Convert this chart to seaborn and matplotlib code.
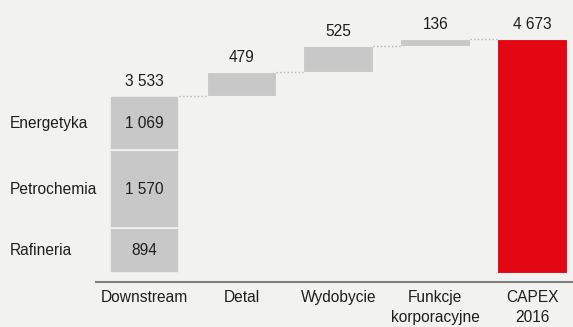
import matplotlib
matplotlib.use('Agg')
import matplotlib.pyplot as plt
import matplotlib.transforms as mtransforms
import seaborn as sns

# Dane
categories = ['Downstream', 'Detal', 'Wydobycie', 'Funkcje\nkorporacyjne', 'CAPEX\n2016']
increments = [3533, 479, 525, 136]
total = 4673
segment_names = ['Rafineria', 'Petrochemia', 'Energetyka']
segment_values = [894, 1570, 1069]
value_labels = ['3 533', '479', '525', '136', '4 673']
segment_labels = ['894', '1 570', '1 069']

bg = '#f2f2f1'
grey = '#c8c8c8'
red = '#e30613'
txt = '#1e1e1e'
fs = 11.2

sns.set_theme(style='white')
plt.rcParams['font.family'] = ['Liberation Sans', 'DejaVu Sans']
plt.rcParams['font.size'] = fs

fig = plt.figure(figsize=(5.73, 3.27), dpi=100, facecolor=bg)
ax = fig.add_axes([96 / 573, 45 / 327, 1 - 96 / 573, 1 - 45 / 327])
ax.set_facecolor(bg)

width = 0.72
x = list(range(len(categories)))

# Downstream - słupek skumulowany
trans = mtransforms.blended_transform_factory(fig.transFigure, ax.transData)
bottom = 0
for name, val, lab in zip(segment_names, segment_values, segment_labels):
    ax.bar(0, val, bottom=bottom, width=width, color=grey, edgecolor=bg, linewidth=1.2)
    mid = bottom + val / 2
    ax.text(0, mid, lab, ha='center', va='center', color=txt, fontsize=fs)
    ax.text(10 / 573, mid, name, ha='left', va='center', color=txt, fontsize=fs, transform=trans)
    bottom += val

# Słupki pływające
tops = []
cum = 0
for i, inc in enumerate(increments):
    if i > 0:
        ax.bar(i, inc, bottom=cum, width=width, color=grey, edgecolor=bg, linewidth=0.8)
    cum += inc
    tops.append(cum)

# Suma
sns.barplot(x=[4], y=[total], ax=ax, native_scale=True, width=width, color=red,
            saturation=1, edgecolor=bg, linewidth=0.8)

# Linie łączące
all_tops = tops + [total]
for i in range(len(all_tops) - 1):
    ax.plot([i + width / 2, i + 1 - width / 2], [all_tops[i], all_tops[i]],
            color='#b5b5b5', linestyle=':', linewidth=1.0)

# Etykiety wartości
for i, lab in enumerate(value_labels):
    ax.annotate(lab, (i, all_tops[i]), xytext=(0, 7.5), textcoords='offset points',
                ha='center', va='baseline', color=txt, fontsize=fs)

ax.set_xlim(-0.5, 4.42)
ax.set_ylim(-180, 5460)
ax.set_xticks(x)
ax.set_xticklabels(categories, color=txt, fontsize=fs, linespacing=1.4)
ax.set_yticks([])
ax.tick_params(axis='x', length=0, pad=6)
for s in ['top', 'right', 'left']:
    ax.spines[s].set_visible(False)
ax.spines['bottom'].set_color('#7f7f7f')
ax.spines['bottom'].set_linewidth(1.5)

plt.savefig('out.png', dpi=100, facecolor=bg)
